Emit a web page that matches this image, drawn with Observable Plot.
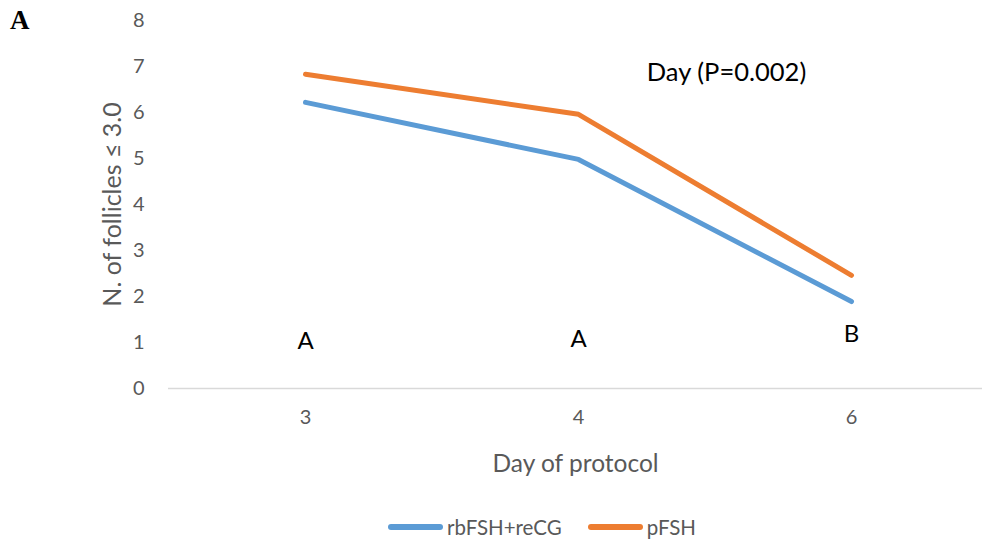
<!DOCTYPE html>
<html>
<head>
<meta charset="utf-8">
<script src="https://cdn.jsdelivr.net/npm/d3@7"></script>
<script src="https://cdn.jsdelivr.net/npm/@observablehq/plot@0.6"></script>
<style>
  html, body { margin: 0; padding: 0; background: #fff; }
  #wrap { position: relative; width: 982px; height: 542px; font-family: Lato, "Open Sans", sans-serif; }
  #panel { position: absolute; left: 10px; top: 7px; line-height: 1; font-family: "Liberation Serif", "DejaVu Serif", serif; font-weight: bold; font-size: 27px; color: #000; }
  #legend { position: absolute; left: 388px; top: 515px; display: flex; font-size: 20.5px; color: #595959; }
  .item { display: flex; align-items: center; margin-right: 26px; }
  .sw { width: 55px; height: 6px; border-radius: 3px; margin-right: 4px; }
</style>
</head>
<body>
<div id="wrap">
  <div id="chart"></div>
  <div id="panel">A</div>
  <div id="legend"></div>
</div>
<script>
const days = ["3", "4", "6"];
const seriesNames = ["rbFSH+reCG", "pFSH"];
const rbFSH = [6.22, 4.98, 1.89];
const pFSH = [6.83, 5.96, 2.46];
const sigLetters = ["A", "A", "B"];
const sigY = [1.02, 1.07, 1.17];
const colors = ["#5b9bd5", "#ed7d31"];
const yTicks = [0, 1, 2, 3, 4, 5, 6, 7, 8];
const note = "Day (P=0.002)";

const rows = [];
[rbFSH, pFSH].forEach((vals, s) => days.forEach((d, i) => rows.push({day: d, value: vals[i], series: seriesNames[s]})));
const letters = days.map((d, i) => ({day: d, y: sigY[i], label: sigLetters[i]}));

const chart = Plot.plot({
  width: 982,
  height: 500,
  marginTop: 20,
  marginBottom: 112,
  marginLeft: 168,
  marginRight: 0,
  style: {fontFamily: "Lato, 'Open Sans', sans-serif", background: "#fff"},
  x: {type: "point", domain: days, range: [168, 987], padding: 0.5, label: null},
  y: {domain: [0, 8], ticks: yTicks, label: null},
  color: {domain: seriesNames, range: colors},
  marks: [
    Plot.ruleY([0], {stroke: "#d9d9d9", strokeWidth: 1.5}),
    Plot.axisY({ticks: yTicks, tickSize: 0, tickPadding: 24, fontSize: 20, fill: "#595959", label: null}),
    Plot.axisX({tickSize: 0, tickPadding: 21, fontSize: 20, fill: "#595959", label: null}),
    Plot.text(["Day of protocol"], {frameAnchor: "bottom", dy: 83, fontSize: 24.5, fill: "#595959"}),
    Plot.text(["N. of follicles \u2264 3.0"], {frameAnchor: "left", textAnchor: "middle", rotate: -90, dx: -56, fontSize: 25, fill: "#595959"}),
    Plot.line(rows, {x: "day", y: "value", stroke: "series", z: "series", strokeWidth: 5, strokeLinecap: "round", strokeLinejoin: "round"}),
    Plot.text(letters, {x: "day", y: "y", text: "label", fontSize: 24, fill: "#000"}),
    Plot.text([note], {x: () => "4", y: () => 6.87, dx: 148, fontSize: 25.5, fill: "#000"})
  ]
});
document.getElementById("chart").appendChild(chart);

const legend = document.getElementById("legend");
seriesNames.forEach((n, i) => {
  const it = document.createElement("div");
  it.className = "item";
  const sw = document.createElement("div");
  sw.className = "sw";
  sw.style.background = colors[i];
  const t = document.createElement("span");
  t.textContent = n;
  it.appendChild(sw); it.appendChild(t);
  legend.appendChild(it);
});
</script>
</body>
</html>
